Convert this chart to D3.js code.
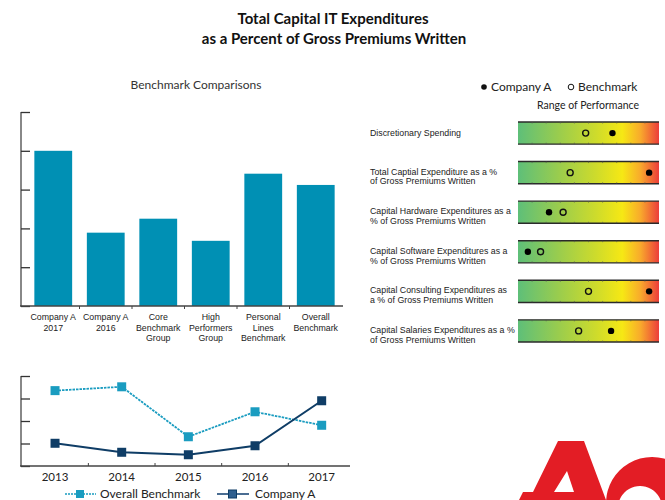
<!DOCTYPE html>
<html>
<head>
<meta charset="utf-8">
<script src="https://cdn.jsdelivr.net/npm/d3@7"></script>
<style>
  body { margin: 0; background: #fff; }
  svg { display: block; }
</style>
</head>
<body>
<div id="canvas"></div>
<script>
// Data

let barCategories = ["Company A\n2017", "Company A\n2016", "Core\nBenchmark\nGroup", "High\nPerformers\nGroup", "Personal\nLines\nBenchmark", "Overall\nBenchmark"];
let barValues = [4.0, 1.89, 2.25, 1.68, 3.41, 3.12];
let barTicks = [0, 1, 2, 3, 4, 5];

let metrics = [
    "Discretionary Spending",
    "Total Captial Expenditure as a %\nof Gross Premiums Written",
    "Capital Hardware Expenditures as a\n% of Gross Premiums Written",
    "Capital Software Expenditures as a\n% of Gross Premiums Written",
    "Capital Consulting Expenditures as\na % of Gross Premiums Written",
    "Capital Salaries Expenditures as a %\nof Gross Premiums Written"
];
let companyScores = [0.67, 0.93, 0.22, 0.07, 0.93, 0.66];
let benchmarkScores = [0.48, 0.37, 0.32, 0.16, 0.50, 0.43];

let years = ["2013", "2014", "2015", "2016", "2017"];
let overallBenchmark = [3.35, 3.52, 1.30, 2.41, 1.81];
let companyTrend = [1.01, 0.61, 0.50, 0.90, 2.90];
let trendTicks = [0, 1, 2, 3, 4];

// Colours

let barColor = "#0090b4";
let benchColor = "#1a9cc0";
let companyColor = "#0f3d66";

// Drawing area

let svg = d3.select("#canvas")
    .append("svg")
    .attr("width", 665)
    .attr("height", 500);

// Titles

svg.append("text")
    .attr("x", 333)
    .attr("y", 24)
    .style("font-family", "Lato")
    .style("font-size", "15px")
    .style("font-weight", 700)
    .style("text-anchor", "middle")
    .style("fill", "#111")
    .text("Total Capital IT Expenditures");

svg.append("text")
    .attr("x", 334)
    .attr("y", 44)
    .style("font-family", "Lato")
    .style("font-size", "15px")
    .style("font-weight", 700)
    .style("text-anchor", "middle")
    .style("fill", "#111")
    .text("as a Percent of Gross Premiums Written");

svg.append("text")
    .attr("x", 196)
    .attr("y", 89)
    .style("font-family", "Lato")
    .style("font-size", "12px")
    .style("text-anchor", "middle")
    .style("fill", "#333")
    .text("Benchmark Comparisons");

// Bar chart

let xBar = d3.scaleBand()
    .domain(barCategories)
    .range([27, 342])
    .paddingInner(0.28)
    .paddingOuter(0.14);

let yBar = d3.scaleLinear()
    .domain([0, 5])
    .range([306, 112]);

svg.selectAll(".bar")
    .data(barValues)
    .enter()
    .append("rect")
    .attr("class", "bar")
    .attr("x", (d, i) => xBar(barCategories[i]))
    .attr("y", (d) => yBar(d))
    .attr("width", xBar.bandwidth())
    .attr("height", (d) => yBar(0) - yBar(d))
    .style("fill", barColor);

let yAxisBar = svg.append("g")
    .attr("transform", "translate(21, 0)")
    .call(d3.axisLeft(yBar).tickValues(barTicks).tickSize(-9).tickFormat(""));
yAxisBar.select(".domain").attr("stroke", "#888").attr("stroke-width", 2).attr("d", "M0," + yBar(5) + "V" + yBar(0));
yAxisBar.selectAll(".tick line").attr("stroke", "#333").attr("stroke-width", 1.3);

svg.append("line")
    .attr("x1", 20).attr("x2", 343)
    .attr("y1", yBar(0)).attr("y2", yBar(0))
    .style("stroke", "#444")
    .style("stroke-width", 1.5);

let stepBar = xBar.step();
svg.selectAll(".bartick")
    .data(barCategories.slice(1))
    .enter()
    .append("line")
    .attr("x1", (d) => xBar(d) - stepBar * xBar.paddingInner() / 2)
    .attr("x2", (d) => xBar(d) - stepBar * xBar.paddingInner() / 2)
    .attr("y1", yBar(0))
    .attr("y2", yBar(0) + 3)
    .style("stroke", "#444");

barCategories.forEach((c, i) => {
    let t = svg.append("text")
        .attr("x", xBar(c) + xBar.bandwidth() / 2)
        .attr("y", 320)
        .style("font-family", "Liberation Sans, Arial")
        .style("font-size", "8.8px")
        .style("text-anchor", "middle")
        .style("fill", "#222");
    c.split("\n").forEach((line, j) => {
        t.append("tspan")
            .attr("x", xBar(c) + xBar.bandwidth() / 2)
            .attr("y", 320 + j * 10.5)
            .text(line);
    });
});

// Range of performance panel

let legendTop = svg.append("g");
legendTop.append("circle").attr("cx", 484).attr("cy", 87).attr("r", 2.8).style("fill", "#111");
legendTop.append("text")
    .attr("x", 491).attr("y", 91)
    .style("font-family", "Lato").style("font-size", "12px").style("fill", "#222")
    .text("Company A");
legendTop.append("circle").attr("cx", 571).attr("cy", 87).attr("r", 2.8)
    .style("fill", "none").style("stroke", "#111").style("stroke-width", 1);
legendTop.append("text")
    .attr("x", 578).attr("y", 91)
    .style("font-family", "Lato").style("font-size", "12px").style("fill", "#222")
    .text("Benchmark");
legendTop.append("text")
    .attr("x", 588).attr("y", 109)
    .style("font-family", "Lato").style("font-size", "10.5px").style("fill", "#222")
    .style("text-anchor", "middle")
    .text("Range of Performance");

let defs = svg.append("defs");
let grad = defs.append("linearGradient").attr("id", "perf");
[["0%", "#5ebf79"], ["30%", "#9ccd4c"], ["55%", "#cddb2c"], ["74%", "#f6e814"], ["87%", "#f8a92c"], ["100%", "#ec3d3b"]]
    .forEach((s) => grad.append("stop").attr("offset", s[0]).attr("stop-color", s[1]));

let xPerf = d3.scaleLinear().domain([0, 1]).range([518, 659]);
let yPerf = d3.scaleBand().domain(metrics).range([122, 342]).paddingInner(0.44).paddingOuter(0);

metrics.forEach((m, i) => {
    let y0 = yPerf(m);
    let h = yPerf.bandwidth();
    let g = svg.append("g");
    g.append("rect")
        .attr("x", xPerf(0)).attr("y", y0)
        .attr("width", xPerf(1) - xPerf(0)).attr("height", h)
        .style("fill", "url(#perf)");
    [y0, y0 + h].forEach((yy) => {
        g.append("line")
            .attr("x1", xPerf(0)).attr("x2", xPerf(1))
            .attr("y1", yy).attr("y2", yy)
            .style("stroke", "#2a2a2a").style("stroke-width", 1.4);
    });
    d3.range(1, 10).forEach((k) => {
        g.append("line")
            .attr("x1", xPerf(k / 10)).attr("x2", xPerf(k / 10))
            .attr("y1", y0).attr("y2", y0 + 1.5)
            .style("stroke", "#555").style("stroke-width", 0.6);
        g.append("line")
            .attr("x1", xPerf(k / 10)).attr("x2", xPerf(k / 10))
            .attr("y1", y0 + h - 1.5).attr("y2", y0 + h)
            .style("stroke", "#555").style("stroke-width", 0.6);
    });
    g.append("circle")
        .attr("cx", xPerf(benchmarkScores[i])).attr("cy", y0 + h / 2).attr("r", 3)
        .style("fill", "none").style("stroke", "#111").style("stroke-width", 1.4);
    g.append("circle")
        .attr("cx", xPerf(companyScores[i])).attr("cy", y0 + h / 2).attr("r", 3.2)
        .style("fill", "#000");

    let lines = m.split("\n");
    let t = g.append("text")
        .style("font-family", "Liberation Sans, Arial")
        .style("font-size", "8.8px")
        .style("fill", "#222");
    lines.forEach((line, j) => {
        t.append("tspan")
            .attr("x", 370)
            .attr("y", y0 + h / 2 + 3 + (lines.length > 1 ? -1 + j * 9.8 : 0))
            .text(line);
    });
});

// Trend line chart

let xLine = d3.scaleBand()
    .domain(years)
    .range([21.7, 355]);

let yLine = d3.scaleLinear()
    .domain([0, 4])
    .range([466, 376]);

let yAxisLine = svg.append("g")
    .attr("transform", "translate(21, 0)")
    .call(d3.axisLeft(yLine).tickValues(trendTicks).tickSize(-9).tickFormat(""));
yAxisLine.select(".domain").attr("stroke", "#888").attr("stroke-width", 2).attr("d", "M0," + yLine(4) + "V" + yLine(0));
yAxisLine.selectAll(".tick line").attr("stroke", "#333").attr("stroke-width", 1.3);

svg.append("line")
    .attr("x1", 20).attr("x2", 350)
    .attr("y1", yLine(0)).attr("y2", yLine(0))
    .style("stroke", "#444")
    .style("stroke-width", 1.5);

svg.selectAll(".yeartick")
    .data(years.slice(1))
    .enter()
    .append("line")
    .attr("x1", (d) => xLine(d))
    .attr("x2", (d) => xLine(d))
    .attr("y1", yLine(0))
    .attr("y2", yLine(0) - 3)
    .style("stroke", "#444");

svg.selectAll(".yearlabel")
    .data(years)
    .enter()
    .append("text")
    .attr("x", (d) => xLine(d) + xLine.bandwidth() / 2)
    .attr("y", 481)
    .style("font-family", "Lato")
    .style("font-size", "11.5px")
    .style("text-anchor", "middle")
    .style("fill", "#222")
    .text((d) => d);

let lineGen = d3.line()
    .x((d, i) => xLine(years[i]) + xLine.bandwidth() / 2)
    .y((d) => yLine(d));

svg.append("path")
    .datum(overallBenchmark)
    .attr("d", lineGen)
    .style("fill", "none")
    .style("stroke", benchColor)
    .style("stroke-width", 1.8)
    .style("stroke-dasharray", "2.5,1");

svg.append("path")
    .datum(companyTrend)
    .attr("d", lineGen)
    .style("fill", "none")
    .style("stroke", companyColor)
    .style("stroke-width", 2);

svg.selectAll(".benchmark-marker")
    .data(overallBenchmark)
    .enter()
    .append("rect")
    .attr("x", (d, i) => xLine(years[i]) + xLine.bandwidth() / 2 - 4.5)
    .attr("y", (d) => yLine(d) - 4.5)
    .attr("width", 9).attr("height", 9)
    .style("fill", benchColor);

svg.selectAll(".company-marker")
    .data(companyTrend)
    .enter()
    .append("rect")
    .attr("x", (d, i) => xLine(years[i]) + xLine.bandwidth() / 2 - 4.5)
    .attr("y", (d) => yLine(d) - 4.5)
    .attr("width", 9).attr("height", 9)
    .style("fill", companyColor);

// Line chart legend

let legendBottom = svg.append("g");
legendBottom.append("line")
    .attr("x1", 65).attr("x2", 96).attr("y1", 494).attr("y2", 494)
    .style("stroke", benchColor).style("stroke-width", 1.5).style("stroke-dasharray", "2,1");
legendBottom.append("rect")
    .attr("x", 76).attr("y", 490).attr("width", 8).attr("height", 8)
    .style("fill", benchColor);
legendBottom.append("text")
    .attr("x", 100).attr("y", 498)
    .style("font-family", "Lato").style("font-size", "12px").style("fill", "#222")
    .text("Overall Benchmark");
legendBottom.append("line")
    .attr("x1", 217).attr("x2", 249).attr("y1", 494).attr("y2", 494)
    .style("stroke", "#4a6d92").style("stroke-width", 2);
legendBottom.append("rect")
    .attr("x", 228.5).attr("y", 490).attr("width", 8).attr("height", 8)
    .style("fill", "#2f5f8f").style("stroke", companyColor).style("stroke-width", 1);
legendBottom.append("text")
    .attr("x", 255).attr("y", 498)
    .style("font-family", "Lato").style("font-size", "12px").style("fill", "#222")
    .text("Company A");

// Logo, partly cut off at the bottom right

let logo = svg.append("g").style("fill", "#e31d25");
logo.append("path")
    .attr("fill-rule", "evenodd")
    .attr("d", "M558,441 L584,441 L606,500 L519,500 L523,492 L533,492 Z M567,471 L574,492 L554,492 Z");
logo.append("path")
    .attr("fill-rule", "evenodd")
    .attr("d", "M652,457 A46,46 0 1,0 652.1,457 Z M640,486 A22,22 0 1,0 640.1,486 Z");
</script>
</body>
</html>
